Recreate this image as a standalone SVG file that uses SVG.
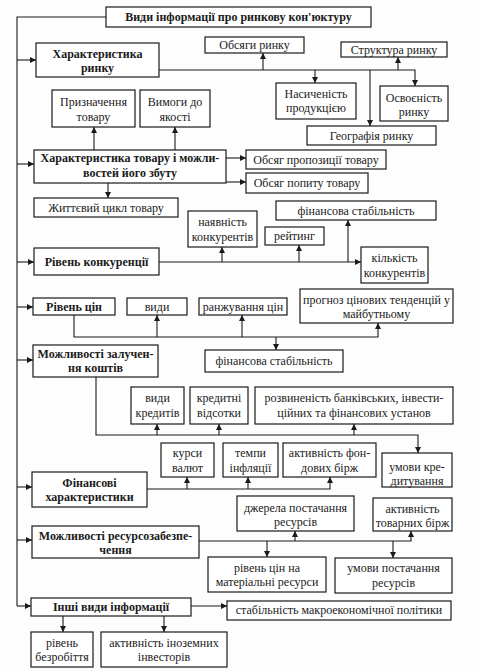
<svg xmlns="http://www.w3.org/2000/svg" width="480" height="671" viewBox="0 0 480 671" font-family="Liberation Serif, serif">
<style>
rect{fill:#fff;stroke:#1a1a1a;stroke-width:1.2}
text{font-size:12px;fill:#1a1a1a;text-anchor:middle}
.b{font-weight:bold}
.c path{fill:none;stroke:#1a1a1a;stroke-width:1.1}
.c .a{marker-end:url(#ar)}
</style>
<defs>
<marker id="ar" viewBox="0 0 8 8" refX="8" refY="4" markerWidth="7" markerHeight="6" markerUnits="userSpaceOnUse" orient="auto"><path d="M0,0 L8,4 L0,8z" fill="#1a1a1a"/></marker>
</defs>
<rect x="0" y="0" width="480" height="671" style="fill:#fdfdfd;stroke:none"/>
<g class="c" id="connectors">
<path d="M106,17 H17 V606"/>
<path class="a" d="M17,60 H36"/>
<path class="a" d="M17,164 H34"/>
<path class="a" d="M17,262 H34"/>
<path class="a" d="M17,307 H33"/>
<path class="a" d="M17,360 H33"/>
<path class="a" d="M17,487 H32"/>
<path class="a" d="M17,540 H32"/>
<path class="a" d="M17,606 H31"/>
<path class="a" d="M159,70 H415 V86"/>
<path class="a" d="M263,70 V53"/>
<path class="a" d="M315,70 V83"/>
<path class="a" d="M370,70 V126"/>
<path class="a" d="M398,70 V57"/>
<path class="a" d="M94,150 V127"/>
<path class="a" d="M175,150 V127"/>
<path class="a" d="M226,158 H246"/>
<path class="a" d="M226,182 H246"/>
<path class="a" d="M108,183 V198"/>
<path class="a" d="M159,262 H361"/>
<path class="a" d="M222,262 V247"/>
<path class="a" d="M299,262 V245"/>
<path class="a" d="M348,262 V220"/>
<path class="a" d="M74,315 V337 H378 V323"/>
<path class="a" d="M157,337 V315"/>
<path class="a" d="M242,337 V315"/>
<path class="a" d="M276,337 V350"/>
<path class="a" d="M96,377 V435 H418 V453"/>
<path class="a" d="M157,435 V424"/>
<path class="a" d="M219,435 V424"/>
<path class="a" d="M354,435 V424"/>
<path class="a" d="M147,489 H330 V477"/>
<path class="a" d="M187,489 V477"/>
<path class="a" d="M248,489 V477"/>
<path class="a" d="M199,541 H411 V531"/>
<path class="a" d="M295,541 V531"/>
<path class="a" d="M267,541 V557"/>
<path class="a" d="M393,541 V558"/>
<path class="a" d="M191,606 H227"/>
<path class="a" d="M63,616 V632"/>
<path class="a" d="M164,616 V632"/>
</g>
<g id="title"><rect x="106" y="7" width="265" height="20"/><text class="b" x="238.5" y="21">Види інформації про ринкову кон'юктуру</text></g>
<g id="n1"><rect x="36" y="43" width="123" height="34"/><text class="b" x="97.5" y="58">Характеристика</text><text class="b" x="97.5" y="72">ринку</text></g>
<g id="n1a"><rect x="205" y="37" width="99" height="16"/><text x="254.5" y="49">Обсяги ринку</text></g>
<g id="n1b"><rect x="341" y="42" width="106" height="15"/><text x="394" y="54">Структура ринку</text></g>
<g id="n1c"><rect x="276" y="83" width="80" height="36"/><text x="316" y="98">Насиченість</text><text x="316" y="112">продукцією</text></g>
<g id="n1d"><rect x="380" y="86" width="68" height="35"/><text x="414" y="102">Освоєність</text><text x="414" y="116">ринку</text></g>
<g id="n1e"><rect x="307" y="126" width="129" height="19"/><text x="371.5" y="140">Географія ринку</text></g>
<g id="n2a"><rect x="52" y="90" width="83" height="37"/><text x="93.5" y="106">Призначення</text><text x="93.5" y="121">товару</text></g>
<g id="n2b"><rect x="140" y="90" width="70" height="37"/><text x="175" y="106">Вимоги до</text><text x="175" y="121">якості</text></g>
<g id="n2"><rect x="34" y="150" width="192" height="33"/><text class="b" x="130" y="162">Характеристика товару і можли-</text><text class="b" x="130" y="177">востей його збуту</text></g>
<g id="n2c"><rect x="246" y="150" width="140" height="19"/><text x="316" y="164">Обсяг пропозиції товару</text></g>
<g id="n2d"><rect x="246" y="173" width="122" height="20"/><text x="307" y="187">Обсяг попиту товару</text></g>
<g id="n2e"><rect x="34" y="198" width="144" height="19"/><text x="106" y="212">Життєвий цикл товару</text></g>
<g id="n3a"><rect x="188" y="211" width="69" height="36"/><text x="222.5" y="226">наявність</text><text x="222.5" y="241">конкурентів</text></g>
<g id="n3b"><rect x="265" y="227" width="59" height="18"/><text x="294.5" y="240">рейтинг</text></g>
<g id="n3c"><rect x="276" y="201" width="160" height="19"/><text x="356" y="215">фінансова стабільність</text></g>
<g id="n3d"><rect x="361" y="247" width="67" height="36"/><text x="394.5" y="262">кількість</text><text x="394.5" y="277">конкурентів</text></g>
<g id="n3"><rect x="34" y="248" width="125" height="27"/><text class="b" x="96.5" y="266">Рівень конкуренції</text></g>
<g id="n4"><rect x="33" y="298" width="82" height="17"/><text class="b" x="74" y="311">Рівень цін</text></g>
<g id="n4a"><rect x="127" y="298" width="60" height="17"/><text x="157" y="311">види</text></g>
<g id="n4b"><rect x="199" y="298" width="88" height="17"/><text x="243" y="311">ранжування цін</text></g>
<g id="n4c"><rect x="300" y="289" width="153" height="34"/><text x="376.5" y="304">прогноз цінових тенденцій у</text><text x="376.5" y="318">майбутньому</text></g>
<g id="n4d"><rect x="205" y="350" width="138" height="22"/><text x="274" y="365">фінансова стабільність</text></g>
<g id="n5"><rect x="33" y="345" width="125" height="32"/><text class="b" x="95.5" y="358">Можливості залучен-</text><text class="b" x="95.5" y="372">ня коштів</text></g>
<g id="n5a"><rect x="131" y="387" width="53" height="37"/><text x="157.5" y="402">види</text><text x="157.5" y="417">кредитів</text></g>
<g id="n5b"><rect x="190" y="387" width="58" height="37"/><text x="219" y="402">кредитні</text><text x="219" y="417">відсотки</text></g>
<g id="n5c"><rect x="255" y="387" width="198" height="37"/><text x="354" y="402">розвиненість банківських, інвести-</text><text x="354" y="417">ційних та фінансових установ</text></g>
<g id="n6a"><rect x="161" y="443" width="53" height="34"/><text x="187.5" y="457">курси</text><text x="187.5" y="472">валют</text></g>
<g id="n6b"><rect x="223" y="443" width="55" height="34"/><text x="250.5" y="457">темпи</text><text x="250.5" y="472">інфляції</text></g>
<g id="n6c"><rect x="283" y="443" width="93" height="34"/><text x="329.5" y="457">активність фон-</text><text x="329.5" y="472">дових бірж</text></g>
<g id="n5d"><rect x="382" y="453" width="70" height="34"/><text x="417" y="471">умови кре-</text><text x="417" y="485">дитування</text></g>
<g id="n6"><rect x="32" y="472" width="115" height="35"/><text class="b" x="89.5" y="487">Фінансові</text><text class="b" x="89.5" y="501">характеристики</text></g>
<g id="n7a"><rect x="237" y="496" width="117" height="35"/><text x="295.5" y="512">джерела постачання</text><text x="295.5" y="526">ресурсів</text></g>
<g id="n7b"><rect x="373" y="498" width="79" height="33"/><text x="412.5" y="513">активність</text><text x="412.5" y="527">товарних бірж</text></g>
<g id="n7"><rect x="32" y="526" width="167" height="32"/><text class="b" x="115.5" y="540">Можливості ресурсозабезпе-</text><text class="b" x="115.5" y="554">чення</text></g>
<g id="n7c"><rect x="208" y="557" width="118" height="35"/><text x="267" y="572">рівень цін на</text><text x="267" y="586">матеріальні ресурси</text></g>
<g id="n7d"><rect x="335" y="558" width="117" height="35"/><text x="393.5" y="572">умови постачання</text><text x="393.5" y="587">ресурсів</text></g>
<g id="n8"><rect x="31" y="598" width="160" height="18"/><text class="b" x="111" y="611">Інші види інформації</text></g>
<g id="n8a"><rect x="227" y="601" width="224" height="19"/><text x="339" y="614">стабільність макроекономічної політики</text></g>
<g id="n8b"><rect x="31" y="632" width="62" height="35"/><text x="62" y="647">рівень</text><text x="62" y="661">безробіття</text></g>
<g id="n8c"><rect x="101" y="632" width="126" height="35"/><text x="164" y="647">активність іноземних</text><text x="164" y="661">інвесторів</text></g>
</svg>
